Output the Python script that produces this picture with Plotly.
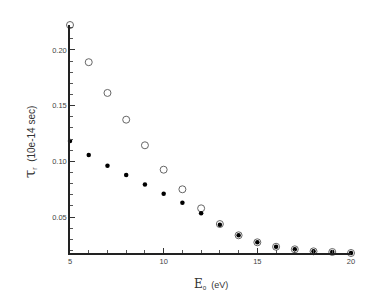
import plotly.graph_objects as go

energy = [5, 6, 7, 8, 9, 10, 11, 12, 13, 14, 15, 16, 17, 18, 19, 20]
tau_open = [0.2224, 0.189, 0.1614, 0.1374, 0.1144, 0.0925, 0.0749, 0.0578,
            0.0437, 0.0336, 0.0273, 0.0233, 0.0210, 0.0192, 0.0186, 0.0177]
tau_filled = [0.1182, 0.1057, 0.0961, 0.0877, 0.0793, 0.0710, 0.0629, 0.0533,
              0.0431, 0.0336, 0.0273, 0.0233, 0.0210, 0.0192, 0.0186, 0.0177]
x_ticks = [5, 10, 15, 20]
y_ticks = [0.05, 0.10, 0.15, 0.20]

fig = go.Figure()
fig.add_trace(go.Scatter(x=energy, y=tau_open, mode="markers", cliponaxis=False,
                         marker=dict(symbol="circle-open", size=7, color="#666",
                                     line=dict(width=1, color="#666"))))
fig.add_trace(go.Scatter(x=energy, y=tau_filled, mode="markers", cliponaxis=False,
                         marker=dict(symbol="circle", size=4.5, color="black")))

axis_font = dict(family="Liberation Sans, Arial", size=7.5, color="#444")
fig.update_xaxes(range=[5, 20], tickvals=x_ticks, ticktext=[str(v) for v in x_ticks],
                 ticks="inside", ticklen=5, tickcolor="#333", showline=True,
                 linecolor="#222", linewidth=1.5, showgrid=False, zeroline=False,
                 tickfont=axis_font,
                 minor=dict(dtick=1, ticks="inside", ticklen=3, tickcolor="#555", showgrid=False))
fig.update_yaxes(range=[0.0177, 0.2224], tickvals=y_ticks,
                 ticktext=["0.05", "0.10", "0.15", "0.20"],
                 ticks="inside", ticklen=5, tickcolor="#333", showline=True,
                 linecolor="#222", linewidth=1.5, showgrid=False, zeroline=False,
                 tickfont=axis_font,
                 minor=dict(tick0=0, dtick=0.01, ticks="inside", ticklen=3, tickcolor="#555", showgrid=False))

fig.add_annotation(xref="paper", yref="paper", x=-0.142, y=0.487, textangle=-90,
                   showarrow=False, xanchor="center", yanchor="middle",
                   text="<span style='font-family:DejaVu Serif;font-size:15px'>τ</span>"
                        "<sub>r</sub>  (10e-14 sec)",
                   font=dict(family="Liberation Sans, Arial", size=10, color="#333"))
fig.add_annotation(xref="paper", yref="paper", x=0.5, y=-0.136,
                   showarrow=False, xanchor="center", yanchor="middle",
                   text="<span style='font-family:DejaVu Serif;font-size:12px'>E</span>"
                        "<sub>o</sub>  (eV)",
                   font=dict(family="Liberation Sans, Arial", size=9, color="#333"))

# page body has an 8px default margin, so the figure is reduced to fit the window
fig.update_layout(width=383, height=292, margin=dict(l=62, r=40, t=17, b=47),
                  plot_bgcolor="white", paper_bgcolor="white", showlegend=False)
fig.write_html("out.html")
